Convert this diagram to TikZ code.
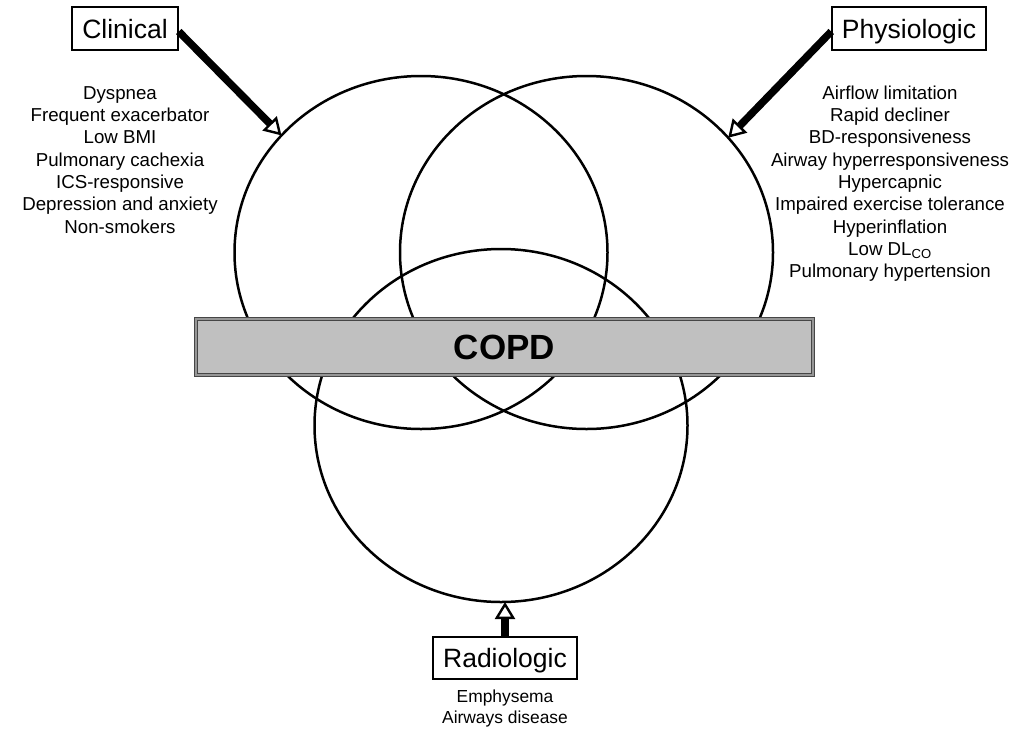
\documentclass[tikz,border=0pt]{standalone}
\usepackage{fontspec}
\setmainfont{Liberation Sans}
\usetikzlibrary{shapes.geometric,arrows.meta}
\definecolor{copdgray}{RGB}{192,192,192}
\definecolor{copdedge}{RGB}{70,70,70}
\definecolor{copdgap}{RGB}{150,150,150}
\begin{document}
\begin{tikzpicture}[x=1pt,y=-1pt,
  venn/.style={ellipse, draw, line width=2.5pt, minimum width=373pt, minimum height=353pt, inner sep=0pt, outer sep=0pt},
  labelbox/.style={draw, line width=1.5pt, minimum height=43pt, inner sep=0pt, text height=19pt, text depth=0pt, font=\fontsize{26.5}{30}\selectfont},
  item/.style={anchor=base, inner sep=0pt, font=\fontsize{18.7}{22}\selectfont},
  smallitem/.style={anchor=base, inner sep=0pt, font=\fontsize{17.4}{20}\selectfont},
  feed/.style={line width=7.5pt, -{Triangle[open, length=17pt, width=20pt, line width=2.4pt]}},
  copdbar/.style={draw=copdedge, line width=1.2pt, double=copdgap, double distance=1.8pt, fill=copdgray,
     minimum width=616.6pt, minimum height=56pt, inner sep=0pt, font=\fontsize{35}{40}\bfseries\selectfont}]
\useasboundingbox (0,0) rectangle (1035,729);

% three overlapping ellipses
\node[venn] (L) at (421,252.5) {};
\node[venn] (R) at (586.5,252.5) {};
\node[venn] (B) at (501,425.5) {};

% central bar
\node[copdbar] (copd) at (504.5,347) {COPD};

% category boxes
\node[labelbox, minimum width=106pt] (clin) at (125,28.5) {Clinical};
\node[labelbox, minimum width=154pt] (phys) at (909,28.5) {Physiologic};
\node[labelbox, minimum width=144pt, minimum height=42pt] (rad) at (505,658) {Radiologic};

% arrows
\draw[feed] ([yshift=-3pt]clin.east) -- (L.140.5);
\draw[feed] ([yshift=-3pt]phys.west) -- (R.39.2);
\draw[feed] (rad.north) -- (rad.north |- B.south);

% lists
\foreach \t [count=\i] in {Dyspnea, Frequent exacerbator, Low BMI, Pulmonary cachexia, ICS-responsive, Depression and anxiety, Non-smokers}
  \node[item] (cl\i) at (120,{99.3+22.3*(\i-1)}) {\t};

\foreach \t [count=\i] in {Airflow limitation, Rapid decliner, BD-responsiveness, Airway hyperresponsiveness, Hypercapnic, Impaired exercise tolerance, Hyperinflation, Low DL\textsubscript{CO}, Pulmonary hypertension}
  \node[item] (ph\i) at (890,{99.3+22.3*(\i-1)}) {\t};

\node[smallitem] (ra1) at (505,702.7) {Emphysema};
\node[smallitem] (ra2) at (505,723.3) {Airways disease};
\end{tikzpicture}
\end{document}
